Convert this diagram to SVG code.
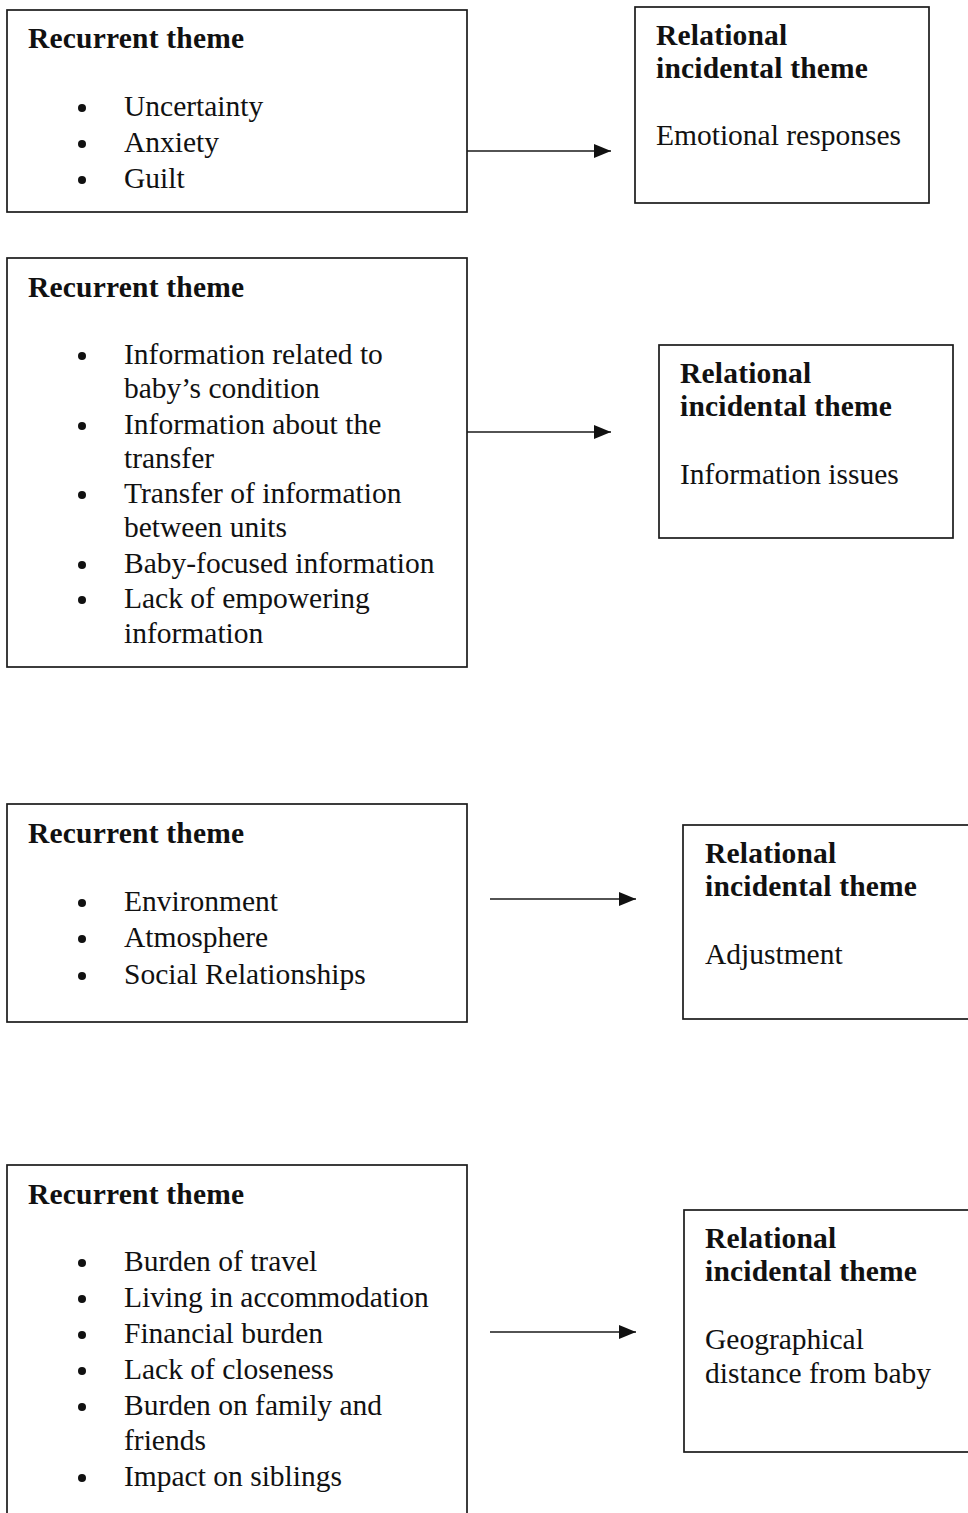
<svg xmlns="http://www.w3.org/2000/svg" width="968" height="1513" viewBox="0 0 968 1513">
  <style>
    .box { fill: #fff; stroke: #1a1a1a; stroke-width: 1.7; }
    .h { font-family: "Liberation Serif", "Times New Roman", serif; font-weight: bold; font-size: 29.5px; letter-spacing: 0.2px; fill: #111; }
    .t { font-family: "Liberation Serif", "Times New Roman", serif; font-size: 29.5px; fill: #111; }
    .dot { fill: #111; }
    .conn { stroke: #1a1a1a; stroke-width: 1.7; fill: none; marker-end: url(#arrow); }
  </style>
  <defs>
    <marker id="arrow" markerWidth="17" markerHeight="14" refX="17" refY="7" orient="auto" markerUnits="userSpaceOnUse">
      <path d="M0,0 L17,7 L0,14 Z" fill="#111"/>
    </marker>
  </defs>
  <rect width="968" height="1513" fill="#fff"/>

  <!-- row 1 -->
  <g id="recurrent-1">
    <rect class="box" x="7" y="10" width="460" height="202"/>
    <text class="h" x="28" y="48">Recurrent theme</text>
    <circle class="dot" cx="82" cy="108" r="4"/>
    <text class="t" x="124" y="116">Uncertainty</text>
    <circle class="dot" cx="82" cy="144" r="4"/>
    <text class="t" x="124" y="152">Anxiety</text>
    <circle class="dot" cx="82" cy="180" r="4"/>
    <text class="t" x="124" y="188">Guilt</text>
  </g>
  <g id="relational-1">
    <rect class="box" x="635" y="7" width="294" height="196"/>
    <text class="h" x="656" y="45">Relational</text>
    <text class="h" x="656" y="78">incidental theme</text>
    <text class="t" x="656" y="145">Emotional responses</text>
  </g>

  <!-- row 2 -->
  <g id="recurrent-2">
    <rect class="box" x="7" y="258" width="460" height="409"/>
    <text class="h" x="28" y="297">Recurrent theme</text>
    <circle class="dot" cx="82" cy="356" r="4"/>
    <text class="t" x="124" y="364">Information related to</text>
    <text class="t" x="124" y="398">baby’s condition</text>
    <circle class="dot" cx="82" cy="426" r="4"/>
    <text class="t" x="124" y="434">Information about the</text>
    <text class="t" x="124" y="468">transfer</text>
    <circle class="dot" cx="82" cy="495" r="4"/>
    <text class="t" x="124" y="503">Transfer of information</text>
    <text class="t" x="124" y="537">between units</text>
    <circle class="dot" cx="82" cy="565" r="4"/>
    <text class="t" x="124" y="573">Baby-focused information</text>
    <circle class="dot" cx="82" cy="600" r="4"/>
    <text class="t" x="124" y="608">Lack of empowering</text>
    <text class="t" x="124" y="643">information</text>
  </g>
  <g id="relational-2">
    <rect class="box" x="659" y="345" width="294" height="193"/>
    <text class="h" x="680" y="383">Relational</text>
    <text class="h" x="680" y="416">incidental theme</text>
    <text class="t" x="680" y="484">Information issues</text>
  </g>

  <!-- row 3 -->
  <g id="recurrent-3">
    <rect class="box" x="7" y="804" width="460" height="218"/>
    <text class="h" x="28" y="843">Recurrent theme</text>
    <circle class="dot" cx="82" cy="903" r="4"/>
    <text class="t" x="124" y="911">Environment</text>
    <circle class="dot" cx="82" cy="939" r="4"/>
    <text class="t" x="124" y="947">Atmosphere</text>
    <circle class="dot" cx="82" cy="976" r="4"/>
    <text class="t" x="124" y="984">Social Relationships</text>
  </g>
  <g id="relational-3">
    <rect class="box" x="683" y="825" width="300" height="194"/>
    <text class="h" x="705" y="863">Relational</text>
    <text class="h" x="705" y="896">incidental theme</text>
    <text class="t" x="705" y="964">Adjustment</text>
  </g>

  <!-- row 4 -->
  <g id="recurrent-4">
    <rect class="box" x="7" y="1165" width="460" height="360"/>
    <text class="h" x="28" y="1204">Recurrent theme</text>
    <circle class="dot" cx="82" cy="1263" r="4"/>
    <text class="t" x="124" y="1271">Burden of travel</text>
    <circle class="dot" cx="82" cy="1299" r="4"/>
    <text class="t" x="124" y="1307">Living in accommodation</text>
    <circle class="dot" cx="82" cy="1335" r="4"/>
    <text class="t" x="124" y="1343">Financial burden</text>
    <circle class="dot" cx="82" cy="1371" r="4"/>
    <text class="t" x="124" y="1379">Lack of closeness</text>
    <circle class="dot" cx="82" cy="1407" r="4"/>
    <text class="t" x="124" y="1415">Burden on family and</text>
    <text class="t" x="124" y="1450">friends</text>
    <circle class="dot" cx="82" cy="1478" r="4"/>
    <text class="t" x="124" y="1486">Impact on siblings</text>
  </g>
  <g id="relational-4">
    <rect class="box" x="684" y="1210" width="300" height="242"/>
    <text class="h" x="705" y="1248">Relational</text>
    <text class="h" x="705" y="1281">incidental theme</text>
    <text class="t" x="705" y="1349">Geographical</text>
    <text class="t" x="705" y="1383">distance from baby</text>
  </g>

  <g id="connectors">
    <line class="conn" x1="467" y1="151" x2="611" y2="151"/>
    <line class="conn" x1="467" y1="432" x2="611" y2="432"/>
    <line class="conn" x1="490" y1="899" x2="636" y2="899"/>
    <line class="conn" x1="490" y1="1332" x2="636" y2="1332"/>
  </g>
</svg>
